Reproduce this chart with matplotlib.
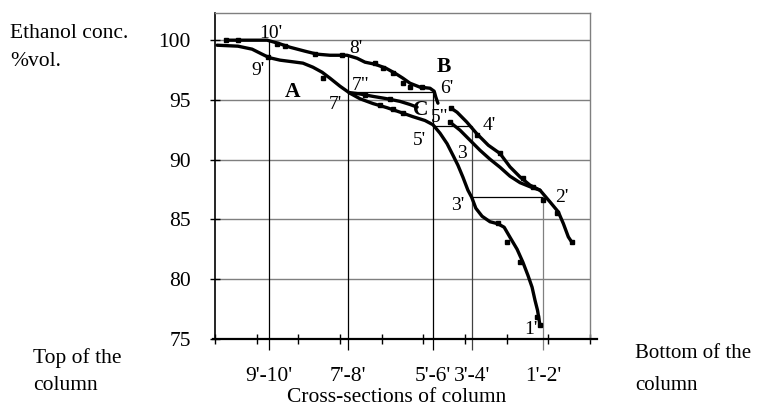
import matplotlib.pyplot as plt

plt.rcParams['font.family'] = ['Liberation Serif', 'DejaVu Serif']

# column cross-sections (x position in tick units) and the level where each guide line starts
sections = ["9'-10'", "7'-8'", "5'-6'", "3'-4'", "1'-2'"]
section_x = [1.30, 3.18, 5.225, 6.16, 7.87]
section_top = [100.0, 98.74, 95.69, 92.80, 86.86]
y_ticks = [75, 80, 85, 90, 95, 100]

# curve A (lower profile, 9' -> 7' -> 5' -> 3' -> 1')
a_x = [0.05, 0.55, 0.89, 1.13, 1.30, 1.56, 1.85, 2.11, 2.35, 2.57, 2.76, 3.00, 3.24,
       3.48, 3.79, 4.13, 4.44, 4.75, 5.04, 5.23, 5.40, 5.57, 5.71, 5.83, 5.95, 6.07,
       6.16, 6.26, 6.41, 6.60, 6.79, 6.94, 7.08, 7.25, 7.39, 7.51, 7.61, 7.68, 7.74,
       7.78, 7.80]
a_y = [99.58, 99.50, 99.25, 98.83, 98.54, 98.33, 98.20, 98.08, 97.74, 97.32, 96.82,
       96.15, 95.56, 95.10, 94.70, 94.35, 93.98, 93.60, 93.28, 92.93, 92.22, 91.34,
       90.38, 89.54, 88.54, 87.45, 86.86, 85.94, 85.27, 84.81, 84.64, 84.35, 83.51,
       82.51, 81.42, 80.33, 79.33, 78.24, 77.41, 76.57, 76.07]
a_mx = [1.27, 2.59, 3.96, 4.27, 4.51, 6.79, 7.01, 7.32, 7.73, 7.80]
a_my = [98.58, 96.82, 94.55, 94.22, 93.92, 84.69, 83.10, 81.42, 76.82, 76.15]

# curve B, upper part (10' -> 8' -> 6')
b1_x = [0.26, 0.84, 1.25, 1.51, 1.80, 2.16, 2.45, 2.76, 3.17, 3.41, 3.60, 3.84, 4.10,
        4.32, 4.51, 4.68, 4.92, 5.16, 5.26, 5.30, 5.35]
b1_y = [100.0, 100.0, 100.0, 99.75, 99.41, 99.08, 98.83, 98.74, 98.74, 98.49, 98.16,
        97.99, 97.66, 97.24, 96.82, 96.40, 96.07, 95.98, 95.73, 95.23, 94.73]
b1_mx = [0.26, 0.55, 1.49, 1.68, 2.40, 3.05, 3.84, 4.03, 4.27, 4.51, 4.68, 4.97]
b1_my = [100.0, 100.0, 99.67, 99.50, 98.83, 98.74, 98.08, 97.66, 97.24, 96.40, 96.07, 96.07]

# curve B, lower part (4' -> 2' -> bottom)
b2_x = [5.68, 5.81, 6.04, 6.28, 6.56, 6.84, 7.08, 7.32, 7.56, 7.80, 8.04, 8.24, 8.36,
        8.48, 8.56]
b2_y = [94.28, 93.97, 93.16, 92.19, 91.21, 90.52, 89.40, 88.56, 87.87, 87.45, 86.47,
        85.63, 84.66, 83.54, 83.12]
b2_mx = [5.66, 6.29, 6.84, 7.39, 7.63, 7.87, 8.21, 8.57]
b2_my = [94.31, 92.05, 90.54, 88.45, 87.70, 86.61, 85.52, 83.10]

# curve C (7" -> C, then 5" -> 2')
c1_x = [3.22, 3.48, 3.79, 4.13, 4.44, 4.68, 4.85]
c1_y = [95.62, 95.50, 95.30, 95.10, 94.88, 94.62, 94.40]
c2_x = [5.64, 5.88, 6.12, 6.36, 6.60, 6.84, 7.08, 7.32, 7.56, 7.80]
c2_y = [93.14, 92.47, 91.63, 90.79, 90.04, 89.37, 88.62, 88.08, 87.74, 87.45]
c_mx = [3.60, 4.20, 5.64]
c_my = [95.42, 95.05, 93.14]

fig = plt.figure(figsize=(7.57, 4.07), dpi=100)
ax = fig.add_axes([215 / 757, 1 - 339 / 407, 375 / 757, 326.3 / 407])
ax.set_xlim(0, 9)
ax.set_ylim(75, 102.3)

# grid and frame
for y in y_ticks[1:]:
    ax.axhline(y, color='#7f7f7f', lw=1.0, zorder=1)
for side in ['top', 'right']:
    ax.spines[side].set_color('#7f7f7f')
    ax.spines[side].set_linewidth(1.0)
ax.spines['left'].set_linewidth(1.2)
ax.spines['bottom'].set_linewidth(1.6)
ax.spines['bottom'].set_bounds(-0.06, 9.17)

ax.set_yticks(y_ticks)
ax.tick_params(axis='y', direction='inout', length=7, width=1, labelsize=15.5, pad=14)
ax.set_xticks(range(10), minor=True)
ax.tick_params(axis='x', which='minor', direction='inout', length=7, width=1)
ax.set_xticks(section_x, sections)
ax.tick_params(axis='x', which='major', length=0, labelsize=15.5, pad=20.5)

# guide lines through the cross-sections
line_cols = ['black', 'black', 'black', '#404040', '#808080']
ax.vlines(section_x, 74.05, section_top, colors=line_cols, lw=0.9, clip_on=False, zorder=2)
ax.hlines(section_top[2:], section_x[1:4], section_x[2:5], colors='black', lw=0.9, zorder=2)

# profiles
for xs, ys in [(a_x, a_y), (b1_x, b1_y), (b2_x, b2_y), (c1_x, c1_y), (c2_x, c2_y)]:
    ax.plot(xs, ys, color='black', lw=2.4, solid_joinstyle='round',
            solid_capstyle='round', zorder=3)
for mx, my in [(a_mx, a_my), (b1_mx, b1_my), (b2_mx, b2_my), (c_mx, c_my)]:
    ax.plot(mx, my, 's', color='black', ms=2.3, zorder=4)

# point labels
labels = [("10'", 1.34, 100.59), ("9'", 1.03, 97.49), ("8'", 3.38, 99.33),
          ("7'", 2.88, 94.64), ('7"', 3.50, 96.23), ("6'", 5.57, 95.98),
          ('5"', 5.40, 93.56), ("5'", 4.90, 91.63), ("4'", 6.58, 92.89),
          ("3", 5.93, 90.54), ("3'", 5.83, 86.19), ("2'", 8.33, 86.86),
          ("1'", 7.58, 75.82)]
for txt, x, y in labels:
    ax.text(x, y, txt, fontsize=14, ha='center', va='center', zorder=5)
for txt, x, y in [("A", 1.87, 95.65), ("B", 5.50, 97.74), ("C", 4.94, 94.14)]:
    ax.text(x, y, txt, fontsize=15.5, fontweight='bold', ha='center', va='center', zorder=5)

# outer texts
fig.text(10 / 757, 1 - 38 / 407, "Ethanol conc.", fontsize=15.5, va='baseline')
fig.text(10 / 757, 1 - 66 / 407, "%vol.", fontsize=15.5, va='baseline')
fig.text(33 / 757, 1 - 363 / 407, "Top of the", fontsize=15.5, va='baseline')
fig.text(33 / 757, 1 - 390 / 407, "column", fontsize=15.5, va='baseline')
fig.text(635 / 757, 1 - 358 / 407, "Bottom of the", fontsize=15, va='baseline')
fig.text(635 / 757, 1 - 390 / 407, "column", fontsize=15, va='baseline')
fig.text(397 / 757, 1 - 402 / 407, "Cross-sections of column", fontsize=15.5,
         ha='center', va='baseline')

fig.savefig('out.png', dpi=100)
